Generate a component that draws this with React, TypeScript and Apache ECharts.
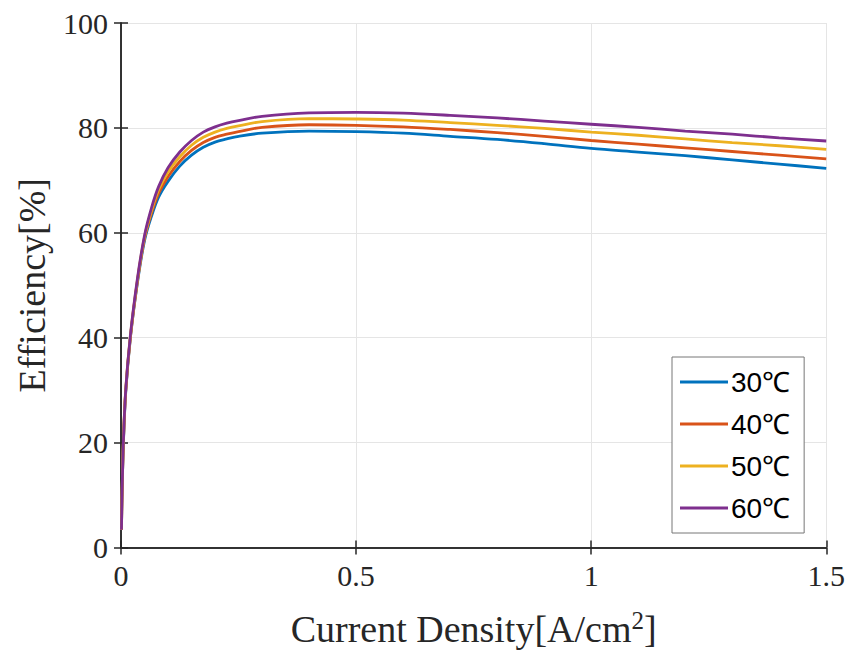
import React, { useEffect, useRef } from "react";
import * as echarts from "echarts";

const xs = [0.001, 0.002, 0.005, 0.01, 0.02, 0.035, 0.05, 0.065, 0.08, 0.1, 0.125, 0.15, 0.175, 0.2, 0.225, 0.25, 0.3, 0.4, 0.5, 0.6, 0.7, 0.8, 0.9, 1.0, 1.1, 1.2, 1.3, 1.4, 1.5];

const eff30 = [3.4, 9, 19.5, 29.5, 40, 50.5, 58.5, 63.2, 66.8, 69.8, 72.7, 74.8, 76.3, 77.3, 77.9, 78.4, 79.0, 79.4, 79.3, 79.0, 78.4, 77.8, 77.0, 76.1, 75.4, 74.7, 73.9, 73.1, 72.3];
const eff40 = [3.4, 9, 19.8, 29.8, 40.1, 50.8, 58.9, 63.8, 67.5, 70.7, 73.6, 75.7, 77.2, 78.2, 78.8, 79.3, 80.1, 80.6, 80.5, 80.2, 79.7, 79.1, 78.4, 77.6, 76.9, 76.2, 75.5, 74.8, 74.1];
const eff50 = [3.4, 9, 20, 30, 40.3, 51, 59.2, 64.3, 68.2, 71.6, 74.5, 76.7, 78.2, 79.2, 79.9, 80.4, 81.2, 81.75, 81.7, 81.5, 81.0, 80.5, 79.9, 79.2, 78.6, 77.9, 77.2, 76.6, 75.9];
const eff60 = [3.4, 9, 20, 30, 40.5, 51.3, 59.5, 64.8, 68.8, 72.4, 75.4, 77.6, 79.2, 80.2, 80.9, 81.4, 82.2, 82.85, 82.95, 82.8, 82.4, 81.9, 81.3, 80.7, 80.1, 79.4, 78.8, 78.1, 77.5];

const seriesNames = ["30℃", "40℃", "50℃", "60℃"];
const seriesValues = [eff30, eff40, eff50, eff60];
const colors = ["#0072BD", "#D95319", "#EDB120", "#7E2F8E"];

const xTicks = [0, 0.5, 1, 1.5];
const yTicks = [0, 20, 40, 60, 80, 100];

const SERIF = "'Liberation Serif', 'Times New Roman', serif";
const SANS = "'Liberation Sans', Arial, sans-serif";
const AXIS_COLOR = "#262626";

export default function App() {
  const ref = useRef<HTMLDivElement>(null);

  useEffect(() => {
    if (!ref.current) return;
    const chart = echarts.init(ref.current, null, { renderer: "svg" });

    const axisCommon = {
      axisLine: { show: true, lineStyle: { color: AXIS_COLOR, width: 1.5 } },
      axisTick: { show: true, inside: true, length: 7, lineStyle: { color: AXIS_COLOR, width: 1.5 } },
    };

    const xFmt = (v: number) => (xTicks.includes(v) ? String(v) : "");
    const yFmt = (v: number) => (yTicks.includes(v) ? String(v) : "");

    chart.setOption({
      animation: false,
      backgroundColor: "#ffffff",
      grid: { left: 121, right: 20, top: 23, bottom: 102, containLabel: false },
      legend: {
        show: true,
        data: seriesNames,
        orient: "vertical",
        left: 672,
        top: 357,
        padding: [10, 14, 10, 8],
        icon: "rect",
        itemWidth: 48,
        itemHeight: 3,
        itemGap: 12,
        selectedMode: false,
        backgroundColor: "#ffffff",
        borderColor: "#777777",
        borderWidth: 1,
        textStyle: { fontFamily: SANS, fontSize: 28, color: "#000000", lineHeight: 30, padding: [0, 0, 0, -2] },
      },
      xAxis: [
        {
          type: "value",
          min: 0,
          max: 1.5,
          interval: 0.5,
          position: "bottom",
          ...axisCommon,
          axisLabel: { show: true, formatter: xFmt, fontFamily: SERIF, fontSize: 30, color: AXIS_COLOR, margin: 13, showMinLabel: true, showMaxLabel: true },
          splitLine: { show: true, lineStyle: { color: "#e5e5e5", width: 1 } },
          name: "Current Density[A/cm{sup|2}]",
          nameLocation: "middle",
          nameGap: 60,
          nameTextStyle: {
            fontFamily: SERIF,
            fontSize: 38,
            color: AXIS_COLOR,
            rich: { sup: { fontFamily: SERIF, fontSize: 25, color: AXIS_COLOR, padding: [0, 0, 18, 0] } },
          },
        },
        {
          type: "value",
          min: 0,
          max: 1.5,
          interval: 0.5,
          position: "top",
          ...axisCommon,
          axisLabel: { show: false },
          splitLine: { show: false },
        },
      ],
      yAxis: [
        {
          type: "value",
          min: 0,
          max: 100,
          interval: 20,
          position: "left",
          ...axisCommon,
          axisLabel: { show: true, formatter: yFmt, fontFamily: SERIF, fontSize: 30, color: AXIS_COLOR, margin: 13 },
          splitLine: { show: true, lineStyle: { color: "#e5e5e5", width: 1 } },
          name: "Efficiency[%]",
          nameLocation: "middle",
          nameGap: 70,
          nameRotate: 90,
          nameTextStyle: { fontFamily: SERIF, fontSize: 38, color: AXIS_COLOR },
        },
        {
          type: "value",
          min: 0,
          max: 100,
          interval: 20,
          position: "right",
          ...axisCommon,
          axisLabel: { show: false },
          splitLine: { show: false },
        },
      ],
      series: seriesNames.map((name, i) => ({
        name,
        type: "line",
        xAxisIndex: 0,
        yAxisIndex: 0,
        data: xs.map((x, k) => [x, seriesValues[i][k]]),
        symbol: "none",
        showSymbol: false,
        smooth: 0.35,
        color: colors[i],
        lineStyle: { color: colors[i], width: 2.8 },
        z: 3 + i,
      })),
    });

    return () => chart.dispose();
  }, []);

  return <div ref={ref} style={{ position: "absolute", left: 0, top: 0, width: 848, height: 653 }} />;
}
